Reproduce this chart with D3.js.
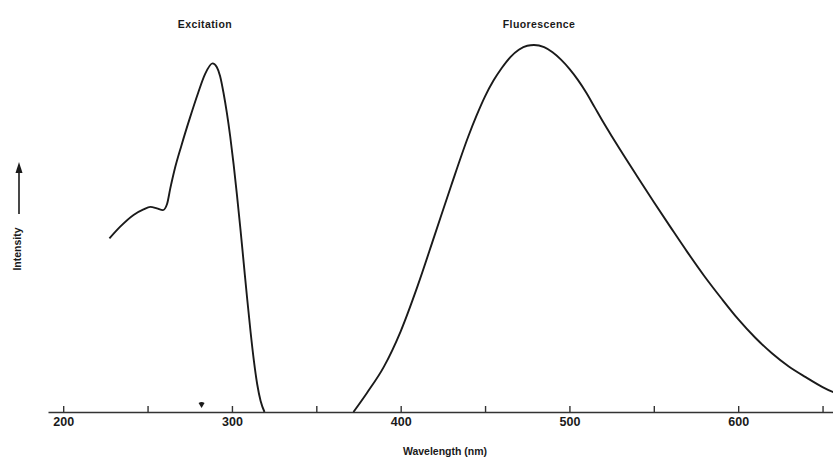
<!DOCTYPE html>
<html><head><meta charset="utf-8">
<script src="https://cdn.jsdelivr.net/npm/d3@7"></script>
<style>
html,body{margin:0;padding:0;background:#fff;}
svg{display:block;font-family:"Liberation Sans",Arial,sans-serif;}
</style></head>
<body><svg id="c" width="833" height="461"></svg>
<script>
// Excitation spectrum (wavelength nm, relative intensity)
const excitationWl = [227.4,233.8,241.7,247.6,251.6,255.5,259.1,261.5,263.5,266,270,275,280,284,288.5,291,293,295,297,299,301,303,305,307,309,311,313,315,317,319.3];
const excitationI  = [47.3,50.5,53.7,55.2,55.9,55.5,55.0,56.6,61,66,72.5,80,87,92,95,94,91.5,87,81.5,75,67.5,59,50,40.5,31,22,14,7.5,3,0];
// Fluorescence spectrum
const fluorWl = [372,380,390,400,410,420,430,440,445,450,455,460,465,470,475,479,485,490,495,500,505,510,515,520,525,530,540,550,560,570,580,590,600,610,620,630,640,650,660,670];
const fluorI  = [0,5.2,12.3,22,34.3,48,61.8,75,80.8,86,90.3,93.8,96.7,98.7,99.8,100,99.4,98,96,93.5,90.5,87,83,79,75.2,71.5,64.3,57.2,50.3,43.5,37,31,25.3,20.3,16,12.4,9.5,6.8,4.7,3.2];
const tickValues = [200,250,300,350,400,450,500,550,600,650];
const labeledTicks = [200,300,400,500,600];
const markerWl = [282];
const peakLabels = ["Excitation","Fluorescence"];
const peakLabelWl = [284,482];

const svg = d3.select("#c");
const x = d3.scaleLinear().domain([191,670]).range([48,856.3]);
const y = d3.scaleLinear().domain([0,100]).range([412,45]);
const ink = "#1a1a1a";

const axis = d3.axisBottom(x).tickValues(tickValues).tickSize(-6).tickSizeOuter(0).tickPadding(8)
  .tickFormat(d => labeledTicks.includes(d) ? d : "");
const gx = svg.append("g").attr("transform","translate(0,412)").call(axis);
gx.select(".domain").attr("stroke","#333").attr("stroke-width",1.6);
gx.selectAll(".tick line").attr("stroke","#333").attr("stroke-width",1.4);
gx.selectAll(".tick text").attr("fill",ink).attr("font-size",12.5).attr("font-weight","bold").attr("dy","0.45em");

svg.append("text").attr("x",445).attr("y",455).attr("text-anchor","middle")
  .attr("font-size",10.5).attr("font-weight","bold").attr("fill",ink).text("Wavelength (nm)");

// y label with arrow
svg.append("text").attr("transform","translate(21,249) rotate(-90)").attr("text-anchor","middle")
  .attr("font-size",10.5).attr("font-weight","bold").attr("fill",ink).text("Intensity");
svg.append("line").attr("x1",19).attr("x2",19).attr("y1",214).attr("y2",172).attr("stroke",ink).attr("stroke-width",1.6);
svg.append("path").attr("d","M19,162 L15.5,173 L22.5,173 Z").attr("fill",ink);

const line = d3.line().x(d=>x(d[0])).y(d=>y(d[1])).curve(d3.curveMonotoneX);
svg.append("path").datum(excitationWl.map((w,i)=>[w,excitationI[i]]))
  .attr("d",line).attr("fill","none").attr("stroke",ink).attr("stroke-width",1.9);
svg.append("path").datum(fluorWl.map((w,i)=>[w,fluorI[i]]))
  .attr("d",line).attr("fill","none").attr("stroke",ink).attr("stroke-width",1.9);

// small marker
markerWl.forEach(w=>{
  const mx = x(w), my = 405;
  svg.append("path").attr("d",`M${mx-3},${my-2} Q${mx},${my-4} ${mx+3},${my-2} L${mx},${my+3} Z`).attr("fill",ink);
});

peakLabels.forEach((t,i)=>{
  svg.append("text").attr("x",x(peakLabelWl[i])).attr("y",28).attr("text-anchor","middle")
    .attr("font-size",10.5).attr("font-weight","bold").attr("letter-spacing","0.4px").attr("fill",ink).text(t);
});
</script></body></html>
